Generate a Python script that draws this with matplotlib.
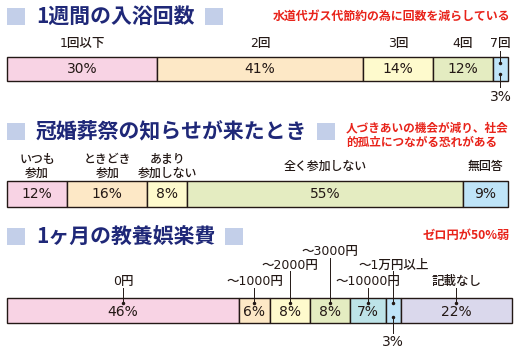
import numpy as np
import matplotlib
matplotlib.use('Agg')
import matplotlib.pyplot as plt
from matplotlib.patches import Rectangle

plt.rcParams['font.family'] = ['Noto Sans CJK JP', 'DejaVu Sans']

# 1週間の入浴回数
bath_labels = ['1回以下', '2回', '3回', '4回', '7回']
bath_pct = [30, 41, 14, 12, 3]

# 冠婚葬祭の知らせが来たとき
event_labels = ['いつも\n参加', 'ときどき\n参加', 'あまり\n参加しない', '全く参加しない', '無回答']
event_pct = [12, 16, 8, 55, 9]

# 1ヶ月の教養娯楽費
fun_labels = ['0円', '～1000円', '～2000円', '～3000円', '～10000円', '～1万円以上', '記載なし']
fun_pct = [46, 6, 8, 8, 7, 3, 22]

titles = ['1週間の入浴回数', '冠婚葬祭の知らせが来たとき', '1ヶ月の教養娯楽費']
notes = ['水道代ガス代節約の為に回数を減らしている',
         '人づきあいの機会が減り、社会\n的孤立につながる恐れがある',
         'ゼロ円が50%弱']

W, H = 522, 352
navy = '#1f2878'
square_c = '#c3cfe9'
red = '#e8231a'
edge = '#231815'
txt = '#231815'
pink, peach, yellow, green = '#f8d3e4', '#fde8c6', '#fefacd', '#e4ecc1'
blue, teal, lav = '#bfe4f8', '#bde3e8', '#dad8ec'
num_font = ['DejaVu Sans', 'Noto Sans CJK JP']

fig = plt.figure(figsize=(W / 100, H / 100), dpi=100)
ax0 = fig.add_axes([0, 0, 1, 1])
ax0.set_xlim(0, W)
ax0.set_ylim(H, 0)
ax0.axis('off')

# titles with square marks
renderer = fig.canvas.get_renderer()
for title, yc in zip(titles, [16, 131, 236]):
    ax0.add_patch(Rectangle((7, yc - 8.5), 18, 17, color=square_c, lw=0))
    t = ax0.text(36, yc, title, fontsize=15, fontweight='bold', color=navy,
                 va='center', ha='left')
    bb = t.get_window_extent(renderer)
    ax0.add_patch(Rectangle((bb.x1 + 10, yc - 8.5), 18, 17, color=square_c, lw=0))

ax0.text(510, 16, notes[0], fontsize=8.6, fontweight='bold', color=red,
         ha='right', va='center')
ax0.text(346, 135, notes[1], fontsize=8.4, fontweight='bold', color=red,
         ha='left', va='center', linespacing=1.15)
ax0.text(510, 235, notes[2], fontsize=8.8, fontweight='bold', color=red,
         ha='right', va='center')


def draw_bar(x0, x1, yc, h, pct, colors):
    ax = fig.add_axes([x0 / W, 0, (x1 - x0) / W, 1])
    ax.set_xlim(0, 100)
    ax.set_ylim(H, 0)
    ax.axis('off')
    left = np.cumsum([0] + pct[:-1])
    ax.barh(yc, pct, left=left, height=h, color=colors, edgecolor=edge,
            linewidth=1, clip_on=False)
    return ax, left + np.array(pct) / 2


def leader(ax, x, y0, y1):
    ax.plot([x, x], [y0, y1], color=edge, lw=0.7, clip_on=False)
    ax.plot([x], [y1], 'o', color=edge, ms=1.5, clip_on=False)


def label(ax, x, y, s, size=9):
    ax.text(x, y, s, fontsize=size, ha='center', va='center', color=txt,
            family=num_font, fontweight='medium', linespacing=1.1)


def pct_text(ax, x, y, p):
    ax.text(x, y, f'{p}%', fontsize=10, ha='center', va='center', color=txt,
            family=num_font)


# bar 1
ax1, mid1 = draw_bar(7, 508, 69, 24, bath_pct, [pink, peach, yellow, green, blue])
for i, (lab, p) in enumerate(zip(bath_labels, bath_pct)):
    label(ax1, mid1[i], 43, lab)
    if p >= 5:
        pct_text(ax1, mid1[i], 69, p)
    else:
        leader(ax1, mid1[i], 51, 63)
        leader(ax1, mid1[i], 87, 74)
        pct_text(ax1, mid1[i], 97, p)

# bar 2
ax2, mid2 = draw_bar(7, 508, 194, 26, event_pct, [pink, peach, yellow, green, blue])
for i, (lab, p) in enumerate(zip(event_labels, event_pct)):
    label(ax2, mid2[i], 166, lab, 8.6)
    pct_text(ax2, mid2[i], 194, p)

# bar 3
ax3, mid3 = draw_bar(7, 512, 310.5, 25, fun_pct,
                     [pink, peach, yellow, green, teal, blue, lav])
label_y = [282, 282, 265, 252, 282, 265, 282]
for i, (lab, p) in enumerate(zip(fun_labels, fun_pct)):
    label(ax3, mid3[i], label_y[i], lab)
    leader(ax3, mid3[i], label_y[i] + 6, 303)
    if p >= 5:
        pct_text(ax3, mid3[i], 312, p)
    else:
        leader(ax3, mid3[i], 333, 317)
        pct_text(ax3, mid3[i], 342, p)

fig.savefig('out.png', dpi=100)
